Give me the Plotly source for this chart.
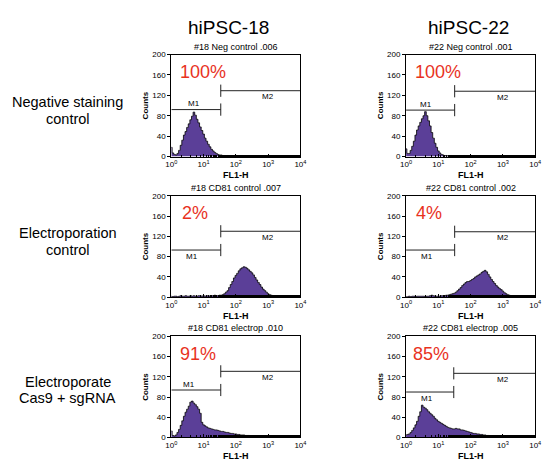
import math
import plotly.graph_objects as go

# ---------------- data ----------------
column_titles = ["hiPSC-18", "hiPSC-22"]
row_labels = ["Negative staining<br>control", "Electroporation<br>control", "Electroporate<br>Cas9 + sgRNA"]
panel_titles = ["#18 Neg control .006", "#22 Neg control .001",
                "#18 CD81 control .007", "#22 CD81 control .002",
                "#18 CD81 electrop .010", "#22 CD81 electrop .005"]
percent_labels = ["100%", "100%", "2%", "4%", "91%", "85%"]

# channel positions: log10(FL1-H) from 0 to 4 in 0.05 steps
channel_decades = [i * 0.05 for i in range(81)]

neg18 = [18, 7, 4, 3, 6, 12, 22, 32, 42, 49,
         57, 64, 72, 79, 87, 81, 73, 66, 58, 51,
         44, 36, 30, 24, 19, 14, 11, 8, 6, 4,
         3, 3, 2, 2, 1, 2, 1, 2, 1, 1,
         2, 1, 1, 1, 2, 1, 1, 0, 1, 1,
         0, 1, 1, 0, 1, 0, 1, 1, 0, 1,
         0, 0, 1, 0, 0, 1, 0, 0, 0, 1,
         0, 0, 0, 0, 1, 0, 0, 0, 0, 0,
         0]
neg22 = [15, 6, 6, 12, 20, 30, 42, 52, 60, 67,
         74, 80, 88, 80, 70, 60, 47, 36, 26, 18,
         11, 7, 4, 3, 2, 2, 1, 1, 2, 1,
         1, 0, 1, 1, 0, 1, 2, 1, 0, 1,
         1, 0, 1, 0, 1, 1, 0, 0, 1, 0,
         1, 0, 0, 1, 0, 0, 1, 0, 0, 1,
         0, 0, 0, 1, 0, 0, 0, 0, 1, 0,
         0, 0, 0, 0, 0, 0, 0, 0, 0, 0,
         0]
ctrl18 = [2, 1, 2, 2, 1, 2, 3, 2, 2, 3,
          2, 2, 3, 2, 3, 2, 2, 3, 3, 2,
          3, 2, 3, 3, 2, 3, 3, 4, 3, 3,
          4, 4, 5, 7, 10, 13, 19, 25, 31, 38,
          43, 47, 52, 56, 58, 60, 59, 57, 54, 51,
          48, 44, 39, 34, 29, 25, 20, 16, 13, 10,
          7, 5, 4, 3, 2, 1, 1, 0, 0, 0,
          0, 0, 0, 0, 0, 0, 0, 0, 0, 0,
          0]
ctrl22 = [1, 1, 2, 1, 2, 2, 1, 2, 2, 2,
          2, 2, 1, 2, 2, 3, 4, 3, 2, 2,
          2, 2, 3, 3, 3, 4, 4, 5, 6, 7,
          8, 10, 13, 16, 19, 23, 26, 29, 31, 31,
          33, 35, 37, 40, 42, 44, 46, 49, 51, 53,
          50, 45, 40, 35, 31, 27, 23, 20, 17, 15,
          12, 9, 7, 5, 4, 3, 2, 1, 1, 0,
          0, 0, 0, 0, 0, 0, 0, 0, 0, 0,
          0]
elec18 = [13, 4, 3, 5, 10, 16, 24, 33, 42, 50,
          56, 62, 70, 72, 68, 65, 61, 56, 48, 30,
          25, 23, 21, 19, 18, 17, 16, 15, 15, 14,
          13, 12, 12, 11, 10, 10, 9, 8, 8, 7,
          7, 6, 6, 5, 5, 5, 4, 4, 4, 3,
          3, 3, 2, 2, 2, 2, 1, 1, 1, 1,
          1, 0, 1, 0, 0, 1, 0, 0, 0, 0,
          0, 0, 0, 0, 0, 0, 0, 0, 0, 0,
          0]
elec22 = [5, 6, 7, 10, 14, 19, 25, 32, 42, 51,
          64, 60, 58, 55, 51, 48, 45, 42, 38, 35,
          32, 30, 28, 26, 24, 22, 20, 19, 18, 17,
          17, 18, 17, 17, 15, 15, 14, 13, 12, 11,
          10, 9, 8, 8, 7, 7, 6, 6, 5, 5,
          4, 4, 3, 3, 3, 2, 2, 2, 1, 1,
          1, 1, 1, 0, 1, 0, 0, 1, 0, 0,
          0, 0, 0, 0, 0, 0, 0, 0, 0, 0,
          0]
panel_counts = [neg18, neg22, ctrl18, ctrl22, elec18, elec22]

# marker (gate) settings
m1_level = [92, 91, 93, 93, 94, 90]
m2_level = [129, 128, 130, 129, 131, 127]
gate_value = [34, 32, 34, 32, 34, 30]

x_tick_values = [1, 10, 100, 1000, 10000]
x_tick_text = ["10<sup>0</sup>", "10<sup>1</sup>", "10<sup>2</sup>", "10<sup>3</sup>", "10<sup>4</sup>"]
y_tick_values = [0, 40, 80, 120, 160, 200]

# ---------------- layout geometry ----------------
W, H = 550, 467
def px(x):
    return x / W
def py(y):
    return 1 - y / H

col_px = [(169.0, 301.0), (409.0, 541.0)]
row_px = [(51.5, 155.5), (195.5, 299.0), (339.0, 442.0)]

FONT = "Liberation Sans, Arial, Helvetica, sans-serif"
FILL = "#5b3f98"
RED = "#e8321e"

# per-panel text placement
pct_x = [1.65, 1.6, 1.9, 1.75, 1.65, 1.45]
m1_label_x = [5.0, 4.0, 4.4, 4.4, 3.6, 4.4]
m1_label_above = [True, True, False, False, True, False]

fig = go.Figure()
annotations = []
layout_axes = {}

xvals = [10 ** d for d in channel_decades]

for k in range(6):
    r, c = k // 2, k % 2
    x0p, x1p = col_px[c]
    y0p, y1p = row_px[r]
    xa = "x" if k == 0 else f"x{k+1}"
    ya = "y" if k == 0 else f"y{k+1}"
    xname = "xaxis" if k == 0 else f"xaxis{k+1}"
    yname = "yaxis" if k == 0 else f"yaxis{k+1}"

    fig.add_trace(go.Scatter(
        x=xvals, y=panel_counts[k], mode="lines",
        line=dict(color="black", width=0.8, shape="hvh"),
        fill="tozeroy", fillcolor=FILL,
        xaxis=xa, yaxis=ya, showlegend=False, hoverinfo="skip"))

    g = gate_value[k]
    m1 = m1_level[k]
    m2 = m2_level[k]
    half = 12
    gx = [1, g, None, g, g, None, g, 10000, None, g, g]
    gy = [m1, m1, None, m1 - half, m1 + half, None, m2, m2, None, m2 - half, m2 + half]
    fig.add_trace(go.Scatter(
        x=gx, y=gy, mode="lines", line=dict(color="#222", width=1),
        xaxis=xa, yaxis=ya, showlegend=False, hoverinfo="skip", cliponaxis=False))

    layout_axes[xname] = dict(
        type="log", range=[0, 4], domain=[px(x0p), px(x1p)], anchor=ya,
        tickvals=x_tick_values, ticktext=x_tick_text,
        showline=True, linecolor="black", linewidth=1, mirror=True,
        ticks="inside", ticklen=3, tickcolor="black", tickwidth=1,
        minor=dict(ticks="inside", ticklen=2, tickcolor="black", tickwidth=0.6, showgrid=False),
        showgrid=False, zeroline=False,
        tickfont=dict(family=FONT, size=8, color="black"))
    layout_axes[yname] = dict(
        range=[0, 200], domain=[py(y1p), py(y0p)], anchor=xa,
        tickvals=y_tick_values,
        showline=True, linecolor="black", linewidth=1, mirror=True,
        ticks="outside", ticklen=3, tickcolor="black", tickwidth=1,
        showgrid=False, zeroline=False,
        tickfont=dict(family=FONT, size=8, color="black"))

    xc = (x0p + x1p) / 2
    yc = (y0p + y1p) / 2
    # panel title
    annotations.append(dict(text=panel_titles[k], xref="paper", yref="paper",
                            x=px(xc), y=py(y0p - 1.0), xanchor="center", yanchor="bottom",
                            showarrow=False, font=dict(family=FONT, size=9, color="black")))
    # axis titles
    annotations.append(dict(text="Counts", xref="paper", yref="paper",
                            x=px(x0p - 26), y=py(yc), xanchor="center", yanchor="middle",
                            textangle=-90, showarrow=False,
                            font=dict(family=FONT, size=8, color="black", weight="bold")))
    annotations.append(dict(text="FL1-H", xref="paper", yref="paper",
                            x=px(xc), y=py(y1p + 19), xanchor="center", yanchor="middle",
                            showarrow=False,
                            font=dict(family=FONT, size=9, color="black", weight="bold")))
    # percentage
    annotations.append(dict(text=percent_labels[k], xref=xa, yref=ya,
                            x=math.log10(pct_x[k]), y=165, xanchor="left", yanchor="middle",
                            showarrow=False, font=dict(family=FONT, size=18, color=RED)))
    # gate labels
    m1y = m1 + 11 if m1_label_above[k] else m1 - 12
    annotations.append(dict(text="M1", xref=xa, yref=ya,
                            x=math.log10(m1_label_x[k]), y=m1y, xanchor="center", yanchor="middle",
                            showarrow=False, font=dict(family=FONT, size=8, color="black")))
    annotations.append(dict(text="M2", xref=xa, yref=ya,
                            x=3.0, y=m2 - 12, xanchor="center", yanchor="middle",
                            showarrow=False, font=dict(family=FONT, size=8, color="black")))

# column titles
col_title_x = [227, 473]
for c in range(2):
    annotations.append(dict(text=column_titles[c], xref="paper", yref="paper",
                            x=px(col_title_x[c]), y=py(24), xanchor="center", yanchor="middle",
                            showarrow=False, font=dict(family=FONT, size=19, color="black")))

# row labels (each line placed separately for tight line spacing)
row_line_y = [(100, 117), (234, 251), (385, 402)]
for r in range(3):
    lines = row_labels[r].split("<br>")
    for li, txt in enumerate(lines):
        annotations.append(dict(text=txt, xref="paper", yref="paper",
                                x=px(63), y=py(row_line_y[r][li]), xanchor="center", yanchor="middle",
                                showarrow=False, font=dict(family=FONT, size=14.5, color="black")))

fig.update_layout(
    width=W, height=H, margin=dict(l=0, r=0, t=0, b=0),
    paper_bgcolor="white", plot_bgcolor="white",
    annotations=annotations, showlegend=False,
    **layout_axes)

fig.write_html("out.html", config={"displayModeBar": False},
               post_script="document.body.style.margin='0';")
